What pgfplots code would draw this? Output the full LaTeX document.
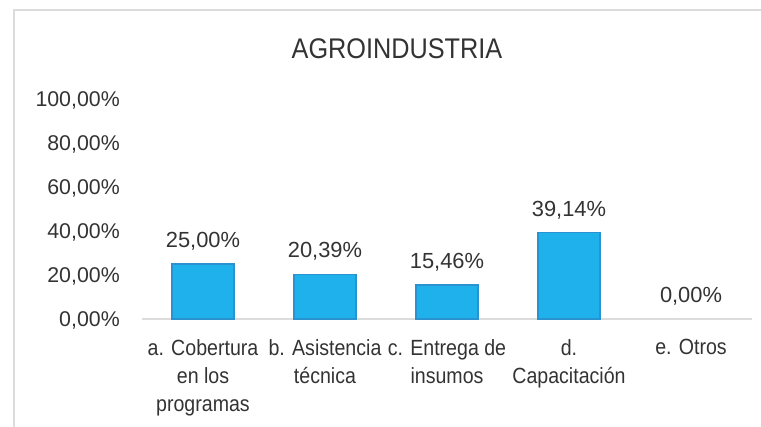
\documentclass[border=0pt]{standalone}
\usepackage{fontspec}
\setmainfont{Liberation Sans}
\newfontfamily\narrowfont[FakeStretch=0.89]{Liberation Sans}
\usepackage{pgfplots}
\pgfplotsset{compat=1.18}
\definecolor{txt}{HTML}{333333}
\definecolor{barfill}{HTML}{1FB1EB}
\definecolor{baredge}{HTML}{2A92CF}
\definecolor{frame}{HTML}{DCDCDC}
\begin{document}
\begin{tikzpicture}
\path[use as bounding box] (0,0) rectangle (570.75pt,320.25pt);
\draw[frame, line width=1.1pt] (10.5pt,0pt) -- (10.5pt,312.75pt) -- (575pt,312.75pt);
\node[txt, font=\narrowfont\fontsize{21.3}{25}\selectfont, inner sep=0pt] at (297.75pt,283.5pt) {AGROINDUSTRIA};
\begin{axis}[
  at={(106.5pt,81pt)}, anchor=south west,
  scale only axis, width=457.5pt, height=165pt,
  xmin=-0.5, xmax=4.5, ymin=0, ymax=100,
  ybar, bar width=46.5pt, bar shift=0pt,
  axis x line*=bottom, axis y line*=left,
  x axis line style={draw=frame, line width=0.9pt},
  y axis line style={draw=none},
  major tick length=0pt,
  xtick={0,1,2,3,4},
  xticklabels={{a. Cobertura\\en los\\programas},{b. Asistencia\\técnica},{c. Entrega de\\insumos},{d.\\Capacitación},{e. Otros}},
  xticklabel style={font=\narrowfont\fontsize{16.5}{21}\selectfont, text=txt, align=center, anchor=north, inner sep=0pt, yshift=-15pt},
  ytick={0,20,40,60,80,100},
  yticklabels={{0,00\%},{20,00\%},{40,00\%},{60,00\%},{80,00\%},{100,00\%}},
  yticklabel style={font=\fontsize{16}{19}\selectfont, text=txt, anchor=base east, inner sep=0pt, xshift=-16.5pt, yshift=-5.7pt},
  point meta=explicit symbolic,
  nodes near coords,
  nodes near coords style={font=\fontsize{16.4}{19}\selectfont, text=txt, anchor=base, inner sep=0pt, yshift=12.4pt},
  clip=false,
]
\addplot[fill=barfill, draw=baredge, line width=0.8pt] coordinates {
  (0,25.00) [25,00\%]
  (1,20.39) [20,39\%]
  (2,15.46) [15,46\%]
  (3,39.14) [39,14\%]
};
\addplot[fill=none, draw=none] coordinates {
  (4,0.00) [0,00\%]
};
\end{axis}
\end{tikzpicture}
\end{document}
